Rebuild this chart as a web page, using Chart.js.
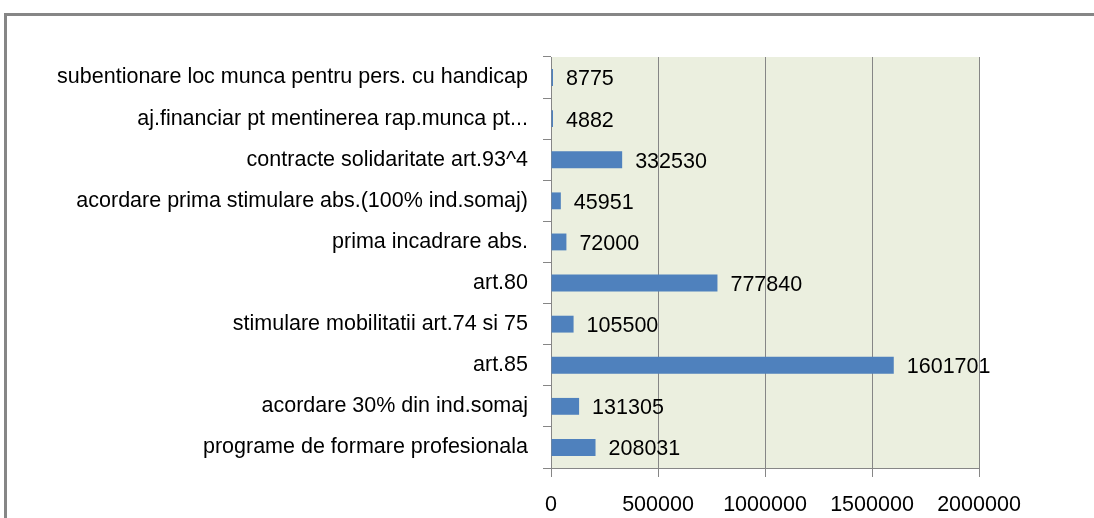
<!DOCTYPE html>
<html>
<head>
<meta charset="utf-8">
<script src="https://cdn.jsdelivr.net/npm/chart.js@4/dist/chart.umd.min.js"></script>
<style>
  body { margin: 0; background: #fff; overflow: hidden; }
  #frame {
    position: absolute; left: 4px; top: 13px; width: 1200px; height: 700px;
    border: 3px solid #868686; box-sizing: border-box;
  }
  #wrap { position: absolute; left: 0; top: 0; width: 1094px; height: 518px; }
</style>
</head>
<body>
<div id="frame"></div>
<div id="wrap"><canvas id="chart"></canvas></div>
<script>
"use strict";

const categories = [
  "subentionare loc munca pentru pers. cu handicap",
  "aj.financiar pt mentinerea rap.munca pt...",
  "contracte solidaritate art.93^4",
  "acordare prima stimulare abs.(100% ind.somaj)",
  "prima incadrare abs.",
  "art.80",
  "stimulare mobilitatii art.74 si 75",
  "art.85",
  "acordare 30% din ind.somaj",
  "programe de formare profesionala",
];
const values = [8775, 4882, 332530, 45951, 72000, 777840, 105500, 1601701, 131305, 208031];
const xTicks = [0, 500000, 1000000, 1500000, 2000000];

const gridColor = "#868686";
const fontSpec = { family: "'Liberation Sans', Arial, sans-serif", size: 21.5 };

const plotBackground = {
  id: "plotBackground",
  beforeDraw: (chart) => {
    const { ctx, chartArea } = chart;
    ctx.save();
    ctx.fillStyle = "#EBEFDF";
    ctx.fillRect(chartArea.left, chartArea.top, chartArea.right - chartArea.left, chartArea.bottom - chartArea.top);
    ctx.restore();
  },
};

const valueLabels = {
  id: "valueLabels",
  afterDatasetsDraw: (chart) => {
    const { ctx } = chart;
    const meta = chart.getDatasetMeta(0);
    ctx.save();
    ctx.fillStyle = "#000";
    ctx.font = fontSpec.size + "px " + fontSpec.family;
    ctx.textAlign = "left";
    ctx.textBaseline = "middle";
    meta.data.forEach((bar, i) => {
      ctx.fillText(String(values[i]), bar.x + 13, bar.y + 2);
    });
    ctx.restore();
  },
};

const ctx = document.getElementById("chart").getContext("2d");
const chart = new Chart(ctx, {
  type: "bar",
  data: {
    labels: categories,
    datasets: [
      {
        data: values,
        backgroundColor: "#4F81BD",
        borderWidth: 0,
        barPercentage: 0.41,
        categoryPercentage: 1,
        minBarLength: 2,
      },
    ],
  },
  options: {
    indexAxis: "y",
    responsive: true,
    maintainAspectRatio: false,
    animation: false,
    layout: { padding: { top: 57, right: 115, left: 0, bottom: 0 } },
    plugins: {
      legend: { display: false },
      tooltip: { enabled: false },
    },
    scales: {
      x: {
        min: 0,
        max: 2000000,
        afterBuildTicks: (scale) => {
          scale.ticks = xTicks.map((v) => ({ value: v }));
        },
        afterFit: (scale) => {
          scale.height = 50;
        },
        grid: { color: gridColor, tickLength: 9, lineWidth: 1 },
        border: { color: gridColor },
        ticks: {
          color: "#000",
          font: fontSpec,
          padding: 15,
          maxRotation: 0,
          autoSkip: false,
          callback: (v) => String(v),
        },
      },
      y: {
        afterFit: (scale) => {
          scale.width = 551;
        },
        grid: { color: gridColor, drawOnChartArea: false, tickLength: 8, offset: true },
        border: { color: gridColor },
        ticks: { color: "#000", font: fontSpec, padding: 15, autoSkip: false },
      },
    },
  },
  plugins: [plotBackground, valueLabels],
});
</script>
</body>
</html>
